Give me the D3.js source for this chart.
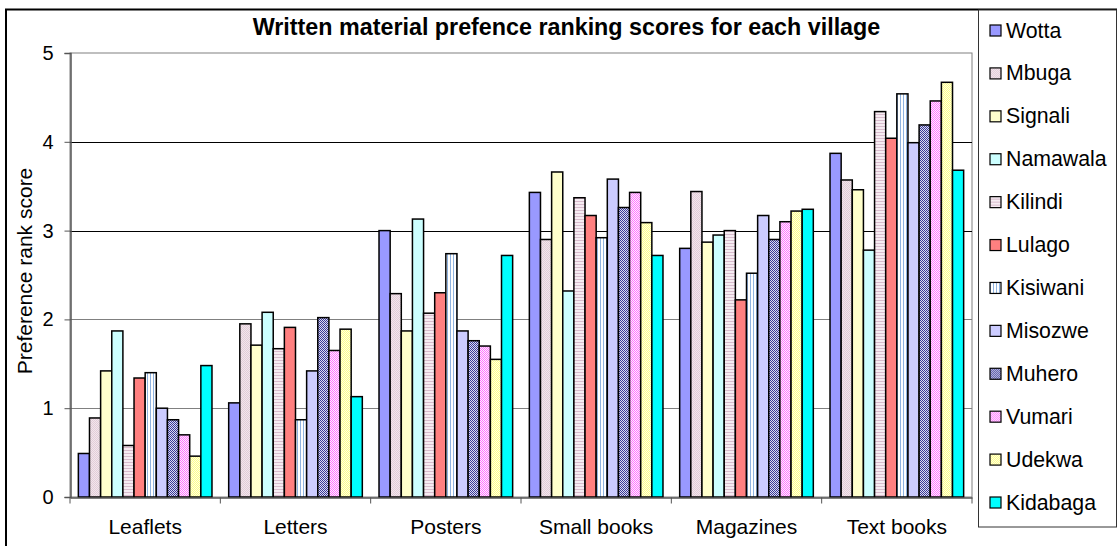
<!DOCTYPE html>
<html><head><meta charset="utf-8">
<script src="https://cdn.jsdelivr.net/npm/d3@7"></script>
<style>
html,body{margin:0;padding:0;background:#fff;}
svg{display:block;font-family:"Liberation Sans",Arial,sans-serif;}
</style></head>
<body><svg id="chart" width="1117" height="546"></svg>
<script>
const categories = ["Leaflets","Letters","Posters","Small books","Magazines","Text books"];
const villages = ["Wotta","Mbuga","Signali","Namawala","Kilindi","Lulago","Kisiwani","Misozwe","Muhero","Vumari","Udekwa","Kidabaga"];
const wotta    = [0.49, 1.06, 3.00, 3.43, 2.80, 3.87];
const mbuga    = [0.89, 1.95, 2.29, 2.90, 3.44, 3.57];
const signali  = [1.42, 1.71, 1.87, 3.66, 2.87, 3.46];
const namawala = [1.87, 2.08, 3.13, 2.32, 2.95, 2.78];
const kilindi  = [0.58, 1.67, 2.07, 3.37, 3.00, 4.34];
const lulago   = [1.34, 1.91, 2.30, 3.17, 2.22, 4.04];
const kisiwani = [1.40, 0.87, 2.74, 2.92, 2.52, 4.54];
const misozwe  = [1.00, 1.42, 1.87, 3.58, 3.17, 3.99];
const muhero   = [0.87, 2.02, 1.76, 3.26, 2.90, 4.19];
const vumari   = [0.70, 1.65, 1.70, 3.43, 3.10, 4.46];
const udekwa   = [0.46, 1.89, 1.55, 3.09, 3.22, 4.67];
const kidabaga = [1.48, 1.13, 2.72, 2.72, 3.24, 3.68];
const yTicks = [0,1,2,3,4,5];
const seriesValues = [wotta,mbuga,signali,namawala,kilindi,lulago,kisiwani,misozwe,muhero,vumari,udekwa,kidabaga];

const fills = ["#9999FF","url(#pMbuga)","#FFFFCC","#CCFFFF","url(#pKilindi)","#FF8080",
               "url(#pKisiwani)","#CCCCFF","url(#pMuhero)","url(#pVumari)","url(#pUdekwa)","#00FFFF"];

const svg = d3.select("#chart");
const defs = svg.append("defs");
function checker(id, a, b){
  const p = defs.append("pattern").attr("id",id).attr("width",2).attr("height",2).attr("patternUnits","userSpaceOnUse");
  p.append("rect").attr("width",2).attr("height",2).attr("fill",b);
  p.append("rect").attr("width",1).attr("height",1).attr("fill",a);
  p.append("rect").attr("x",1).attr("y",1).attr("width",1).attr("height",1).attr("fill",a);
}
checker("pMbuga","#E2CCD8","#F2E6EC");
checker("pMuhero","#3A3A99","#DCDCF0");
checker("pVumari","#FF77FF","#FFEEFF");
checker("pUdekwa","#FFFF88","#FFFFE4");
(function(){
  const p = defs.append("pattern").attr("id","pKilindi").attr("width",3).attr("height",3).attr("patternUnits","userSpaceOnUse");
  p.append("rect").attr("width",3).attr("height",3).attr("fill","#F6ECF2");
  p.append("rect").attr("width",3).attr("height",1).attr("fill","#D8BCCD");
  const q = defs.append("pattern").attr("id","pKisiwani").attr("width",3).attr("height",3).attr("patternUnits","userSpaceOnUse");
  q.append("rect").attr("width",3).attr("height",3).attr("fill","#FFFFFF");
  q.append("rect").attr("width",1).attr("height",3).attr("fill","#8FB3E0");
})();

// outer chart border
svg.append("rect").attr("x",6).attr("y",9.5).attr("width",1200).attr("height",600)
  .attr("fill","none").attr("stroke","#000").attr("stroke-width",2);

const x0 = d3.scaleBand().domain(categories).range([70, 972]).padding(0);
const x1 = d3.scaleBand().domain(villages).range([0, x0.bandwidth()]).paddingInner(0).paddingOuter(0.75);
const y = d3.scaleLinear().domain([0,5]).range([497, 53]);

// plot area border
svg.append("rect").attr("x",70).attr("y",53).attr("width",902).attr("height",444)
  .attr("fill","none").attr("stroke","#808080").attr("stroke-width",1);

// gridlines
svg.append("g").selectAll("line").data(yTicks.filter(d=>d>0 && d<5)).join("line")
  .attr("x1",70).attr("x2",972).attr("y1",d=>Math.round(y(d))+0.5).attr("y2",d=>Math.round(y(d))+0.5)
  .attr("stroke",d=>d>=3?"#000":"#808080").attr("stroke-width",1);

// bars
const data = [];
categories.forEach((c,i)=>villages.forEach((v,j)=>data.push({c, v, val: seriesValues[j][i], j})));
svg.append("g").selectAll("rect").data(data).join("rect")
  .attr("x",d=>x0(d.c)+x1(d.v))
  .attr("y",d=>y(d.val))
  .attr("width",x1.bandwidth())
  .attr("height",d=>y(0)-y(d.val))
  .attr("fill",d=>fills[d.j])
  .attr("stroke","#000").attr("stroke-width",1.5);

// y axis
const yAxis = d3.axisLeft(y).tickValues(yTicks).tickSize(6).tickPadding(11).tickFormat(d3.format("d"));
const gy = svg.append("g").attr("transform","translate(70.5,0)").call(yAxis);
gy.select(".domain").attr("stroke","#555").attr("stroke-width",1.5);
gy.selectAll(".tick line").attr("stroke","#555");
gy.selectAll(".tick text").attr("font-size",20).attr("fill","#000").attr("font-family","Liberation Sans, Arial, sans-serif");

// x axis
const xAxis = d3.axisBottom(x0).tickSize(0).tickPadding(22);
const gx = svg.append("g").attr("transform","translate(0,497.5)").call(xAxis);
gx.select(".domain").attr("stroke","#555").attr("stroke-width",1.5);
gx.selectAll(".tick text").attr("font-size",21).attr("fill","#000").attr("font-family","Liberation Sans, Arial, sans-serif");
// category boundary ticks
gx.append("g").selectAll("line").data(categories.concat(["_end"])).join("line")
  .attr("x1",(d,i)=>i<categories.length?x0(d):x0.range()[1])
  .attr("x2",(d,i)=>i<categories.length?x0(d):x0.range()[1])
  .attr("y1",0).attr("y2",6).attr("stroke","#555");

// title
svg.append("text").attr("x",566.5).attr("y",35).attr("text-anchor","middle")
  .attr("font-size",23.3).attr("font-weight","bold").text("Written material prefence ranking scores for each village");

// y label
svg.append("text").attr("transform","translate(32,271) rotate(-90)").attr("text-anchor","middle")
  .attr("font-size",21).text("Preference rank score");

// legend
const lg = svg.append("g");
lg.append("rect").attr("x",978.5).attr("y",10).attr("width",138).attr("height",517)
  .attr("fill","#fff").attr("stroke","#333").attr("stroke-width",1);
const ly = d3.scalePoint().domain(villages).range([30, 502]);
const items = lg.selectAll("g.item").data(villages).join("g").attr("class","item")
  .attr("transform",d=>`translate(0,${ly(d)})`);
items.append("rect").attr("x",990).attr("y",-5).attr("width",11).attr("height",11)
  .attr("fill",(d,i)=>fills[i]).attr("stroke","#000").attr("stroke-width",1.2);
items.append("text").attr("x",1006).attr("y",7.5).attr("font-size",21.3).text(d=>d);
</script></body></html>
